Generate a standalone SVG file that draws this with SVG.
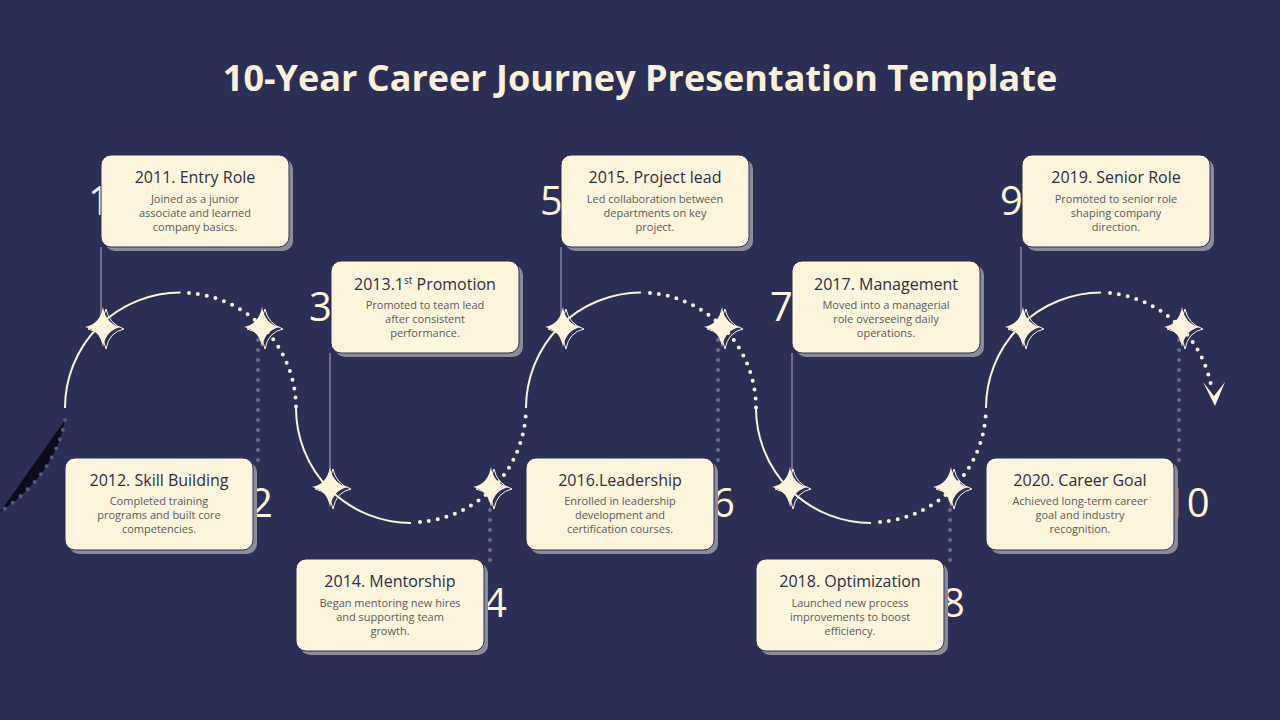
<svg xmlns="http://www.w3.org/2000/svg" xmlns:xlink="http://www.w3.org/1999/xlink" width="1280" height="720" viewBox="0 0 1280 720">
<style>
.bg{fill:#2b2f55}
.box{fill:#fdf4dc;stroke:#2b2f55;stroke-width:1}
.sh{fill:#8c8c98}
.h{font-family:"Open Sans","Liberation Sans",sans-serif;font-size:16px;font-weight:500;fill:#2b2e45;text-anchor:middle}
.b{font-family:"Open Sans","Liberation Sans",sans-serif;font-size:11px;fill:#5a5a5a;text-anchor:middle}
.n{font-family:"Open Sans","Liberation Sans",sans-serif;font-size:40px;fill:#fdf4dc}
.solid{fill:none;stroke:#fdf4dc;stroke-width:2}
.dot{fill:none;stroke:#fdf4dc;stroke-width:4;stroke-linecap:round;stroke-dasharray:0 9}
.gl{stroke:#6b6f8c;stroke-width:2}
.gd{stroke:#6b6f8c;stroke-width:4;stroke-linecap:round;stroke-dasharray:0 10}
.star{fill:#fdf4dc}
.star2{fill:none;stroke:#fdf4dc;stroke-width:1}
</style>
<defs>
<g id="st">
<path class="star2" d="M3 -18 Q6 -3 21 2 Q6 5 3 22 Q0 5 -15 2 Q0 -3 3 -18Z"/>
<path class="star" d="M0 -20 Q3 -3 18 0 Q3 3 0 20 Q-3 3 -18 0 Q-3 -3 0 -20Z"/>
</g>
</defs>
<rect class="bg" width="1280" height="720"/>
<text x="640" y="91" style="font-family:'Open Sans','Liberation Sans',sans-serif;font-size:36px;font-weight:700;fill:#fbf1da;text-anchor:middle">10-Year Career Journey Presentation Template</text>
<g id="connectors">
<path class="gd" d="M65 420 Q55 475 0 512" opacity="0.7"/>
<line class="gl" x1="101" y1="247" x2="101" y2="327"/>
<line class="gd" x1="258" y1="340" x2="258" y2="470"/>
<line class="gl" x1="330" y1="353" x2="330" y2="487"/>
<line class="gd" x1="490" y1="500" x2="490" y2="565"/>
<line class="gl" x1="561" y1="247" x2="561" y2="327"/>
<line class="gd" x1="718" y1="340" x2="718" y2="470"/>
<line class="gl" x1="792" y1="353" x2="792" y2="487"/>
<line class="gd" x1="950" y1="500" x2="950" y2="565"/>
<line class="gl" x1="1021" y1="247" x2="1021" y2="327"/>
<line class="gd" x1="1179" y1="340" x2="1179" y2="470"/>
<path class="solid" d="M65 408 A115.5 115.5 0 0 1 180.5 292.5"/>
<path class="dot" d="M189 293 A115.5 115.5 0 0 1 296 408"/>
<path class="solid" d="M296 408 A115 115 0 0 0 411 523"/>
<path class="dot" d="M420 522 A115 115 0 0 0 526 408"/>
<path class="solid" d="M526 408 A115.5 115.5 0 0 1 641 292.5"/>
<path class="dot" d="M650 293 A115.5 115.5 0 0 1 756 408"/>
<path class="solid" d="M756 408 A115 115 0 0 0 871 523"/>
<path class="dot" d="M880 522 A115 115 0 0 0 986 408"/>
<path class="solid" d="M986 408 A115.5 115.5 0 0 1 1101 292.5"/>
<path class="dot" d="M1110 293 A115.5 115.5 0 0 1 1211 385"/>
<path class="star" d="M1203 382 L1214 396 L1225 382 L1215 406 Z"/>
</g>
<g id="stars">
<use href="#st" x="103" y="327"/><use href="#st" x="262" y="327"/>
<use href="#st" x="330" y="487"/><use href="#st" x="491" y="487"/>
<use href="#st" x="563" y="327"/><use href="#st" x="722" y="327"/>
<use href="#st" x="790" y="487"/><use href="#st" x="951" y="487"/>
<use href="#st" x="1023" y="327"/><use href="#st" x="1182" y="327"/>
</g>
<g id="n1"><text class="n" x="88" y="215">1</text><rect class="sh" x="105" y="159" width="188" height="92" rx="10"/><rect class="box" x="101" y="155" width="188" height="92" rx="10"/><text class="h" x="195" y="183">2011. Entry Role</text><text class="b" x="195" y="203">Joined as a junior</text><text class="b" x="195" y="217">associate and learned</text><text class="b" x="195" y="231">company basics.</text></g>
<g id="n2"><text class="n" x="250" y="517">2</text><rect class="sh" x="69" y="462" width="188" height="92" rx="10"/><rect class="box" x="65" y="458" width="188" height="92" rx="10"/><text class="h" x="159" y="486">2012. Skill Building</text><text class="b" x="159" y="505">Completed training</text><text class="b" x="159" y="519">programs and built core</text><text class="b" x="159" y="533">competencies.</text></g>
<g id="n3"><text class="n" x="309" y="321">3</text><rect class="sh" x="335" y="265" width="188" height="92" rx="10"/><rect class="box" x="331" y="261" width="188" height="92" rx="10"/><text class="h" x="425" y="290">2013.1<tspan dy="-6" font-size="10">st</tspan><tspan dy="6"> Promotion</tspan></text><text class="b" x="425" y="309">Promoted to team lead</text><text class="b" x="425" y="323">after consistent</text><text class="b" x="425" y="337">performance.</text></g>
<g id="n4"><text class="n" x="484" y="617">4</text><rect class="sh" x="300" y="563" width="188" height="92" rx="10"/><rect class="box" x="296" y="559" width="188" height="92" rx="10"/><text class="h" x="390" y="587">2014. Mentorship</text><text class="b" x="390" y="607">Began mentoring new hires</text><text class="b" x="390" y="621">and supporting team</text><text class="b" x="390" y="635">growth.</text></g>
<g id="n5"><text class="n" x="540" y="215">5</text><rect class="sh" x="565" y="159" width="188" height="92" rx="10"/><rect class="box" x="561" y="155" width="188" height="92" rx="10"/><text class="h" x="655" y="183">2015. Project lead</text><text class="b" x="655" y="203">Led collaboration between</text><text class="b" x="655" y="217">departments on key</text><text class="b" x="655" y="231">project.</text></g>
<g id="n6"><text class="n" x="712" y="517">6</text><rect class="sh" x="530" y="462" width="188" height="92" rx="10"/><rect class="box" x="526" y="458" width="188" height="92" rx="10"/><text class="h" x="620" y="486">2016.Leadership</text><text class="b" x="620" y="505">Enrolled in leadership</text><text class="b" x="620" y="519">development and</text><text class="b" x="620" y="533">certification courses.</text></g>
<g id="n7"><text class="n" x="770" y="321">7</text><rect class="sh" x="796" y="265" width="188" height="92" rx="10"/><rect class="box" x="792" y="261" width="188" height="92" rx="10"/><text class="h" x="886" y="290">2017. Management</text><text class="b" x="886" y="309">Moved into a managerial</text><text class="b" x="886" y="323">role overseeing daily</text><text class="b" x="886" y="337">operations.</text></g>
<g id="n8"><text class="n" x="942" y="617">8</text><rect class="sh" x="760" y="563" width="188" height="92" rx="10"/><rect class="box" x="756" y="559" width="188" height="92" rx="10"/><text class="h" x="850" y="587">2018. Optimization</text><text class="b" x="850" y="607">Launched new process</text><text class="b" x="850" y="621">improvements to boost</text><text class="b" x="850" y="635">efficiency.</text></g>
<g id="n9"><text class="n" x="1000" y="215">9</text><rect class="sh" x="1026" y="159" width="188" height="92" rx="10"/><rect class="box" x="1022" y="155" width="188" height="92" rx="10"/><text class="h" x="1116" y="183">2019. Senior Role</text><text class="b" x="1116" y="203">Promoted to senior role</text><text class="b" x="1116" y="217">shaping company</text><text class="b" x="1116" y="231">direction.</text></g>
<g id="n10"><text class="n" x="1164" y="517">10</text><rect class="sh" x="990" y="462" width="188" height="92" rx="10"/><rect class="box" x="986" y="458" width="188" height="92" rx="10"/><text class="h" x="1080" y="486">2020. Career Goal</text><text class="b" x="1080" y="505">Achieved long-term career</text><text class="b" x="1080" y="519">goal and industry</text><text class="b" x="1080" y="533">recognition.</text></g>
</svg>
